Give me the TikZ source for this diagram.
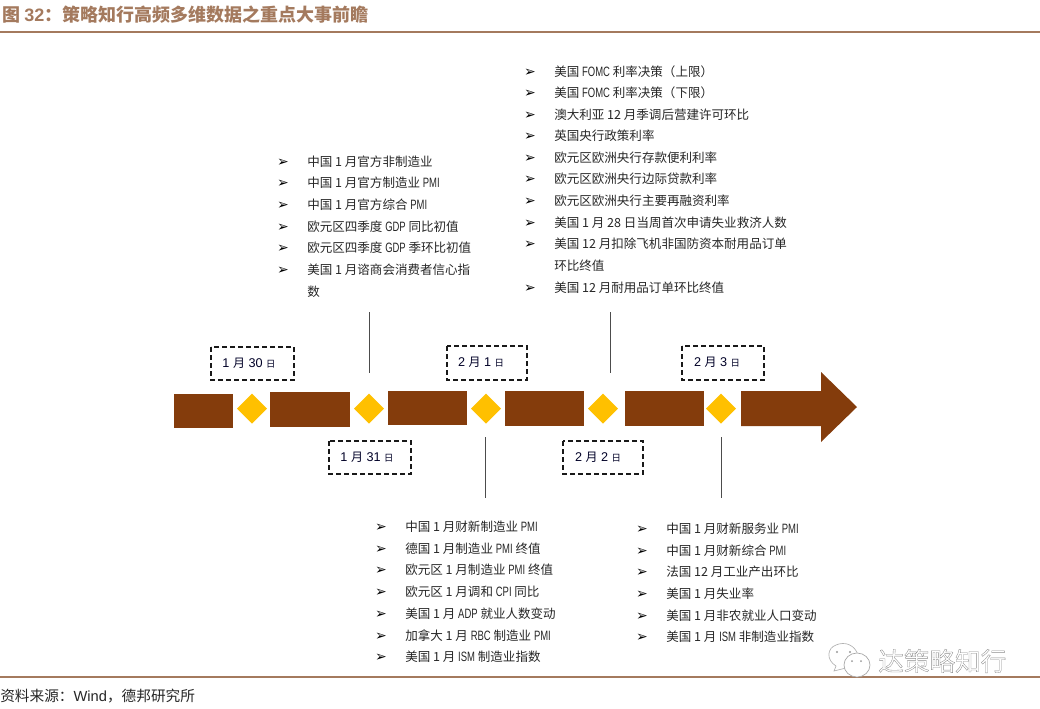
\documentclass[tikz,border=0pt]{standalone}
\usepackage{fontspec}
\setmainfont{Noto Sans CJK SC}
\newfontfamily\ltn[FakeStretch=0.7,Scale=1.08]{Liberation Sans}
\newfontfamily\arl{Liberation Sans}
\newfontfamily\djv{DejaVu Sans}
\definecolor{rulebrown}{HTML}{A47A5E}
\definecolor{bar}{HTML}{843C0C}
\definecolor{gem}{HTML}{FFC000}
\newcommand{\Lt}[1]{{\ltn #1}}
\newcommand{\itm}[4]{%
  \node[bul] (#1b) at (#2-24,#3+1.5) {\djv ➢};
  \node[lst] (#1) at (#2,#3+1) {#4};}
\tikzset{
  x=0.75pt,y=-0.75pt,
  bul/.style={inner sep=0pt,font=\fontsize{10.5}{12}\selectfont},
  lst/.style={anchor=west,inner sep=0pt,font=\fontsize{9.4}{11}\selectfont,text=black!85},
  barbox/.style={fill=bar,draw=none},
  gemshape/.style={fill=gem,draw=none},
  datebox/.style={draw=black!90,line width=1.2pt,dash pattern=on 3.75pt off 2.25pt},
  datetxt/.style={inner sep=0pt,font=\arl\fontsize{9.5}{11}\selectfont,text=black!85!blue},
  stem/.style={draw=black!70,line width=0.7pt},
  rulel/.style={draw=rulebrown,line width=1.4pt},
}
\begin{document}
\begin{tikzpicture}
\useasboundingbox (0,0) rectangle (1040,708);
% header and footer
\node[anchor=west,inner sep=0pt,text=rulebrown,font=\bfseries\fontsize{13.5}{15}\selectfont] (title) at (2,15)
  {图 {\arl 32}：策略知行高频多维数据之重点大事前瞻};
\coordinate (rl1) at (0,32); \coordinate (rr1) at (1040,32);
\draw[rulel] (rl1) -- (rr1);
\coordinate (rl2) at (0,677); \coordinate (rr2) at (1040,677);
\draw[rulel] (rl2) -- (rr2);
\node[anchor=west,inner sep=0pt,font=\fontsize{11}{13}\selectfont,text=black!85] (src) at (0,696) {资料来源：{\arl Wind}，德邦研究所};
% timeline bars
\fill[barbox] (174,394) rectangle (233,428);
\fill[barbox] (270,392) rectangle (350,427);
\fill[barbox] (388,391) rectangle (467,425);
\fill[barbox] (505,391) rectangle (584,426);
\fill[barbox] (625,391) rectangle (704,426);
\fill[barbox] (741,391) -- (821,391) -- (821,372) -- (857,407) -- (821,442) -- (821,426) -- (741,426) -- cycle;
% diamonds
\foreach \n/\cx in {d1/252,d2/369,d3/486,d4/603,d5/721}{
  \fill[gemshape] (\cx-15,408.5) -- (\cx,393.5) -- (\cx+15,408.5) -- (\cx,423.5) -- cycle;
}
% date boxes
\draw[datebox] (211,347) rectangle (294,380);
\draw[datebox] (447,346) rectangle (527,380);
\draw[datebox] (682,346) rectangle (764,380);
\draw[datebox] (329,441) rectangle (411,474);
\draw[datebox] (563,441) rectangle (643,474);
\newcommand{\yue}{{\rmfamily\fontsize{9}{11}\selectfont 月}}
\newcommand{\ri}{{\rmfamily\fontsize{7}{9}\selectfont 日}}
\node[datetxt] (b1) at (249,363) {1 \yue{} 30 \ri};
\node[datetxt] (b3) at (481,362) {2 \yue{} 1 \ri};
\node[datetxt] (b5) at (717,362) {2 \yue{} 3 \ri};
\node[datetxt] (b2) at (367,457) {1 \yue{} 31 \ri};
\node[datetxt] (b4) at (598,457) {2 \yue{} 2 \ri};
% stems
\coordinate (s1a) at (369,312); \coordinate (s1b) at (369,373);
\coordinate (s2a) at (610,312); \coordinate (s2b) at (610,373);
\coordinate (s3a) at (485,437); \coordinate (s3b) at (485,498);
\coordinate (s4a) at (721,437); \coordinate (s4b) at (721,498);
\draw[stem] (s1a) -- (s1b);
\draw[stem] (s2a) -- (s2b);
\draw[stem] (s3a) -- (s3b);
\draw[stem] (s4a) -- (s4b);
% list 1
\itm{a1}{307}{161}{中国 1 月官方非制造业}
\itm{a2}{307}{182}{中国 1 月官方制造业 \Lt{PMI}}
\itm{a3}{307}{204}{中国 1 月官方综合 \Lt{PMI}}
\itm{a4}{307}{226}{欧元区四季度 \Lt{GDP} 同比初值}
\itm{a5}{307}{247}{欧元区四季度 \Lt{GDP} 季环比初值}
\itm{a6}{307}{269}{美国 1 月谘商会消费者信心指}
\node[lst] (a6x) at (307,292) {数};
% list 2
\itm{c1}{554}{71}{美国 \Lt{FOMC} 利率决策（上限）}
\itm{c2}{554}{92}{美国 \Lt{FOMC} 利率决策（下限）}
\itm{c3}{554}{114}{澳大利亚 12 月季调后营建许可环比}
\itm{c4}{554}{135}{英国央行政策利率}
\itm{c5}{554}{157}{欧元区欧洲央行存款便利利率}
\itm{c6}{554}{178}{欧元区欧洲央行边际贷款利率}
\itm{c7}{554}{200}{欧元区欧洲央行主要再融资利率}
\itm{c8}{554}{222}{美国 1 月 28 日当周首次申请失业救济人数}
\itm{c9}{554}{243}{美国 12 月扣除飞机非国防资本耐用品订单}
\node[lst] (c9x) at (554,266) {环比终值};
\itm{c10}{554}{287}{美国 12 月耐用品订单环比终值}
% list 3
\itm{e1}{405}{526}{中国 1 月财新制造业 \Lt{PMI}}
\itm{e2}{405}{548}{德国 1 月制造业 \Lt{PMI} 终值}
\itm{e3}{405}{569}{欧元区 1 月制造业 \Lt{PMI} 终值}
\itm{e4}{405}{591}{欧元区 1 月调和 \Lt{CPI} 同比}
\itm{e5}{405}{613}{美国 1 月 \Lt{ADP} 就业人数变动}
\itm{e6}{405}{635}{加拿大 1 月 \Lt{RBC} 制造业 \Lt{PMI}}
\itm{e7}{405}{656}{美国 1 月 \Lt{ISM} 制造业指数}
% list 4
\itm{f1}{666}{528}{中国 1 月财新服务业 \Lt{PMI}}
\itm{f2}{666}{550}{中国 1 月财新综合 \Lt{PMI}}
\itm{f3}{666}{571}{法国 12 月工业产出环比}
\itm{f4}{666}{593}{美国 1 月失业率}
\itm{f5}{666}{615}{美国 1 月非农就业人口变动}
\itm{f6}{666}{636}{美国 1 月 \Lt{ISM} 非制造业指数}
% watermark
\draw[black!30,fill=white,line width=0.5pt] (834,671) -- (836,666) .. controls (826,660) and (827,648) .. (836,645) .. controls (845,641) and (855,645) .. (858,655) -- (846,668) -- cycle;
\fill[black!40] (837,652) circle (1.2) (850,652) circle (1.2);
\draw[black!35,fill=white,line width=0.5pt] (857,665) circle [x radius=13,y radius=12];
\fill[black!40] (852,661) circle (1) (861,661) circle (1);
\node[anchor=west,inner sep=0pt,text=black!45,font=\fontsize{19.2}{22}\selectfont] (wm) at (878,661) {\special{pdf:code 1 Tr 0.25 w}达策略知行\special{pdf:code 0 Tr}};
\end{tikzpicture}
\end{document}
